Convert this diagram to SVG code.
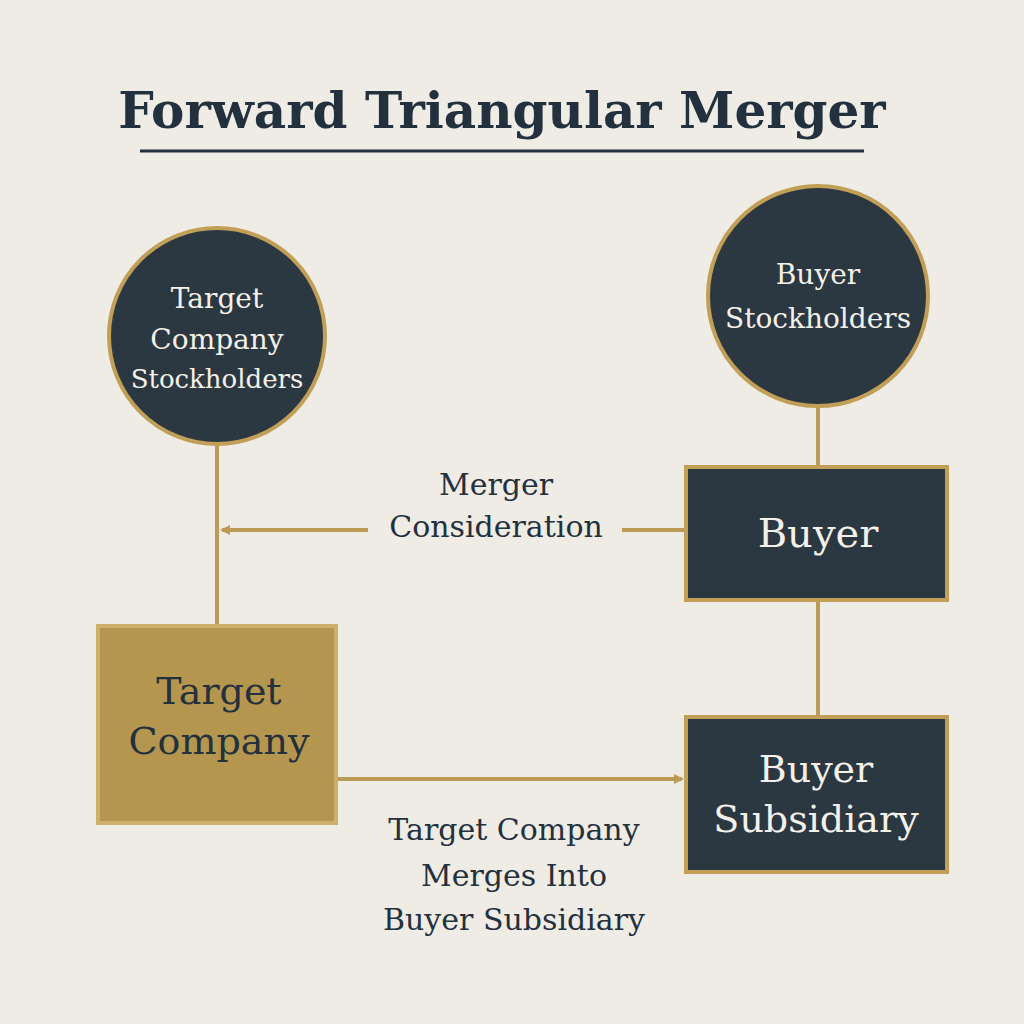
<svg xmlns="http://www.w3.org/2000/svg" width="1024" height="1024" viewBox="0 0 1024 1024">
<style>
.t{font-family:"DejaVu Serif","Liberation Serif",serif;text-anchor:middle}
.w{fill:#f4f1ea}
.d{fill:#23303d}
.ln{stroke:#bb9b55;stroke-width:4;fill:none}
.dk{fill:#2b3741;stroke:#c19f57;stroke-width:4}
</style>
<defs><marker id="a" markerWidth="10" markerHeight="10" refX="8" refY="5" orient="auto" markerUnits="userSpaceOnUse" viewBox="0 0 10 10"><path d="M0,0L10,5L0,10z" fill="#bb9b55"/></marker></defs>
<rect width="1024" height="1024" fill="#efece5"/>
<text class="t d" x="502" y="128" font-size="50" font-weight="bold">Forward Triangular Merger</text>
<line x1="140" y1="151" x2="864" y2="151" stroke="#23303d" stroke-width="3"/>
<g id="connectors">
<line class="ln" x1="217" y1="444" x2="217" y2="626"/>
<line class="ln" x1="818" y1="406" x2="818" y2="466"/>
<line class="ln" x1="818" y1="600" x2="818" y2="716"/>
<line class="ln" x1="685" y1="530" x2="622" y2="530"/>
<line class="ln" x1="368" y1="530" x2="222" y2="530" marker-end="url(#a)"/>
<line class="ln" x1="338" y1="779" x2="682" y2="779" marker-end="url(#a)"/>
<text class="t d" x="496" y="495" font-size="30">Merger</text>
<text class="t d" x="496" y="537" font-size="30">Consideration</text>
<text class="t d" x="514" y="840" font-size="30">Target Company</text>
<text class="t d" x="514" y="886" font-size="30">Merges Into</text>
<text class="t d" x="514" y="930" font-size="30">Buyer Subsidiary</text>
</g>
<g id="target-stockholders"><circle class="dk" cx="217" cy="336" r="108"/>
<text class="t w" x="217" y="308" font-size="28">Target</text><text class="t w" x="217" y="349" font-size="28">Company</text><text class="t w" x="217" y="388" font-size="26">Stockholders</text></g>
<g id="buyer-stockholders"><circle class="dk" cx="818" cy="296" r="110"/>
<text class="t w" x="818" y="284" font-size="28">Buyer</text><text class="t w" x="818" y="328" font-size="28">Stockholders</text></g>
<g id="buyer"><rect class="dk" x="686" y="467" width="261" height="133"/>
<text class="t w" x="818" y="547" font-size="40">Buyer</text></g>
<g id="buyer-subsidiary"><rect class="dk" x="686" y="717" width="261" height="155"/>
<text class="t w" x="816" y="782" font-size="38">Buyer</text><text class="t w" x="816" y="832" font-size="38">Subsidiary</text></g>
<g id="target-company"><rect x="98" y="626" width="238" height="197" fill="#b5964e" stroke="#cdb06a" stroke-width="4"/>
<text class="t d" x="219" y="704" font-size="38">Target</text><text class="t d" x="219" y="754" font-size="38">Company</text></g>
</svg>
